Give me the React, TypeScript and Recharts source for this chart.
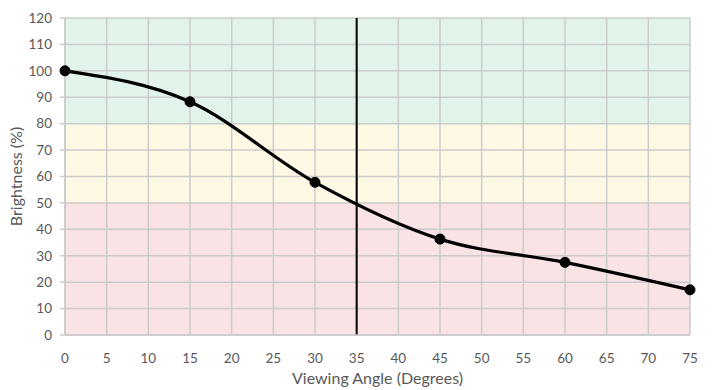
import { LineChart, Line, XAxis, YAxis, CartesianGrid, ReferenceLine } from "recharts";

// measured brightness at each viewing angle
const angles = [0, 15, 30, 45, 60, 75];
const brightness = [100, 88.3, 57.8, 36.3, 27.5, 17.1];

const xTicks = [0, 5, 10, 15, 20, 25, 30, 35, 40, 45, 50, 55, 60, 65, 70, 75];
const yTicks = [0, 10, 20, 30, 40, 50, 60, 70, 80, 90, 100, 110, 120];

// quality bands: [from, to, colour]
const bands: [number, number, string][] = [
  [80, 120, "#e2f4ea"],
  [50, 80, "#fef8e5"],
  [0, 50, "#f9e3e4"],
];
const cutoffAngle = 35;

const data = angles.map((angle, i) => ({ angle, value: brightness[i] }));

// grid stripes are painted top to bottom, one per y tick interval
const stripeFills = yTicks
  .slice(1)
  .reverse()
  .map((top) => {
    const mid = top - 5;
    const band = bands.find(([from, to]) => mid >= from && mid < to);
    return band ? band[2] : "#fff";
  });

const FONT = "Lato, 'Open Sans', sans-serif";
const GRID = "#cbcbcb";
const tickStyle = { fill: "#595959", fontSize: 13.5, fontFamily: FONT };

export default function App() {
  return (
    <div style={{ position: "absolute", left: 0, top: 0, background: "#fff" }}>
      <LineChart width={717} height={390} data={data} margin={{ top: 18, right: 27, left: 0, bottom: 0 }}>
        <CartesianGrid stroke={GRID} strokeWidth={1.5} horizontalFill={stripeFills} fillOpacity={1} />
        <XAxis
          dataKey="angle"
          type="number"
          domain={[0, 75]}
          ticks={xTicks}
          interval={0}
          height={55}
          tickLine={false}
          tickSize={0}
          tickMargin={18}
          axisLine={{ stroke: GRID, strokeWidth: 1.5 }}
          tick={tickStyle}
          label={{ value: "Viewing Angle (Degrees)", position: "insideBottom", offset: 6, fill: "#595959", fontSize: 16, fontFamily: FONT }}
        />
        <XAxis
          xAxisId="top"
          dataKey="angle"
          type="number"
          orientation="top"
          domain={[0, 75]}
          ticks={xTicks}
          interval={0}
          height={0}
          tick={false}
          tickSize={5}
          tickLine={{ stroke: GRID, strokeWidth: 1.5 }}
          axisLine={false}
        />
        <YAxis
          type="number"
          domain={[0, 120]}
          ticks={yTicks}
          interval={0}
          width={65}
          tickSize={5}
          tickMargin={8}
          tickLine={{ stroke: GRID, strokeWidth: 1.5 }}
          axisLine={{ stroke: GRID, strokeWidth: 1.5 }}
          tick={tickStyle}
          label={{ value: "Brightness (%)", angle: -90, position: "insideLeft", offset: 16, fill: "#595959", fontSize: 16, fontFamily: FONT, style: { textAnchor: "middle" } }}
        />
        <ReferenceLine x={cutoffAngle} stroke="#000" strokeWidth={2} />
        <Line
          type="monotone"
          dataKey="value"
          stroke="#000"
          strokeWidth={3.2}
          dot={{ r: 5, fill: "#000", stroke: "#000", strokeWidth: 1 }}
          isAnimationActive={false}
        />
      </LineChart>
    </div>
  );
}
